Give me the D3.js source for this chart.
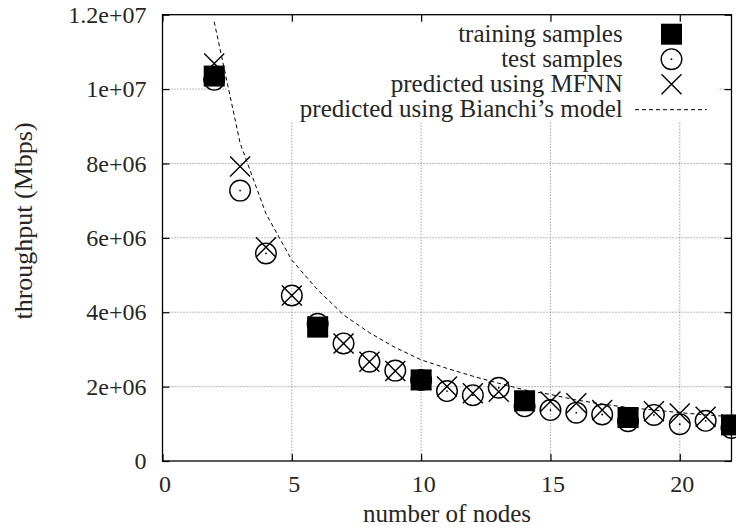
<!DOCTYPE html>
<html>
<head>
<meta charset="utf-8">
<script src="https://cdn.jsdelivr.net/npm/d3@7"></script>
<style>
  body { margin: 0; background: #fff; }
  text { font-family: "Liberation Serif", "Times New Roman", serif; fill: #262626; }
</style>
</head>
<body>
<svg id="chart" width="736" height="530"></svg>
<script>
// training samples (filled squares)
var trainNodes = [2, 6, 10, 14, 18, 22]
var trainThroughput = [10.35e6, 3.60e6, 2.18e6, 1.62e6, 1.17e6, 0.97e6]

// test samples (circles)
var testNodes = [2, 3, 4, 5, 6, 7, 8, 9, 10, 11, 12, 13, 14, 15, 16, 17, 18, 19, 20, 21, 22]
var testThroughput = [10.25e6, 7.27e6, 5.58e6, 4.45e6, 3.69e6, 3.16e6, 2.67e6, 2.43e6, 2.18e6, 1.88e6, 1.77e6,
                      1.97e6, 1.47e6, 1.37e6, 1.30e6, 1.25e6, 1.07e6, 1.24e6, 0.99e6, 1.08e6, 0.89e6]

// predicted using MFNN (crosses)
var mfnnNodes = [2, 3, 4, 5, 6, 7, 8, 9, 10, 11, 12, 13, 14, 15, 16, 17, 18, 19, 20, 21, 22]
var mfnnThroughput = [10.69e6, 7.92e6, 5.75e6, 4.45e6, 3.62e6, 3.16e6, 2.67e6, 2.42e6, 2.18e6, 2.00e6, 1.82e6,
                      1.86e6, 1.60e6, 1.60e6, 1.55e6, 1.37e6, 1.17e6, 1.34e6, 1.28e6, 1.19e6, 0.98e6]

// predicted using Bianchi's model (dashed line)
var bianchiNodes = [2, 3, 4, 5, 6, 7, 8, 9, 10, 11, 12, 13, 14, 15, 16, 17, 18, 19, 20, 21, 22]
var bianchiThroughput = [11.81e6, 8.55e6, 6.65e6, 5.40e6, 4.60e6, 3.93e6, 3.45e6, 3.05e6, 2.72e6, 2.49e6, 2.28e6,
                         2.09e6, 1.91e6, 1.79e6, 1.64e6, 1.53e6, 1.44e6, 1.37e6, 1.30e6, 1.24e6, 1.19e6]

var xTicks = [0, 5, 10, 15, 20]
var yTicks = [0, 2e6, 4e6, 6e6, 8e6, 1e7, 1.2e7]
var yTickLabels = ["0", "2e+06", "4e+06", "6e+06", "8e+06", "1e+07", "1.2e+07"]
var legendLabels = ["training samples", "test samples", "predicted using MFNN", "predicted using Bianchi\u2019s model"]

var margin = {top: 14.7, right: 4.5, bottom: 69, left: 162.5}
var width = 736 - margin.left - margin.right
var height = 530 - margin.top - margin.bottom

var svg = d3.select('#chart')
var g = svg.append('g').attr('transform', 'translate(' + margin.left + ',' + margin.top + ')')

var x = d3.scaleLinear().domain([0, 22]).range([0, width])
var y = d3.scaleLinear().domain([0, 1.2e7]).range([height, 0])

// grid
g.append('g').selectAll('line.gx')
  .data(xTicks.filter(function (d) { return d > 0 }))
  .enter().append('line')
  .attr('x1', function (d) { return x(d) }).attr('x2', function (d) { return x(d) })
  .attr('y1', 0).attr('y2', height)
  .style('stroke', '#777').style('stroke-width', 1).style('stroke-dasharray', '1,2')
g.append('g').selectAll('line.gy')
  .data(yTicks.filter(function (d) { return d > 0 && d < 1.2e7 }))
  .enter().append('line')
  .attr('x1', 0).attr('x2', width)
  .attr('y1', function (d) { return y(d) }).attr('y2', function (d) { return y(d) })
  .style('stroke', '#777').style('stroke-width', 1).style('stroke-dasharray', '1,2')

// opaque key box
g.append('rect')
  .attr('x', 228 - margin.left).attr('y', 0)
  .attr('width', 718 - 228).attr('height', 122 - margin.top)
  .style('fill', '#fff')

// axes, ticks on the inside, mirrored
var fontSize = '24px'
var xAxis = g.append('g').attr('transform', 'translate(0,' + height + ')')
  .call(d3.axisBottom(x).tickValues(xTicks).tickSize(-7).tickPadding(14).tickFormat(d3.format('d')))
xAxis.selectAll('text').style('font-size', fontSize).attr('dx', 2)

var yAxis = g.append('g')
  .call(d3.axisLeft(y).tickValues(yTicks).tickSize(-7).tickPadding(16)
    .tickFormat(function (d, i) { return yTickLabels[i] }))
yAxis.selectAll('text').style('font-size', fontSize)

g.append('g').call(d3.axisTop(x).tickValues(xTicks).tickSize(-7).tickFormat(''))
g.append('g').attr('transform', 'translate(' + width + ',0)')
  .call(d3.axisRight(y).tickValues(yTicks).tickSize(-7).tickFormat(''))

g.selectAll('.domain').remove()
g.selectAll('.tick line').style('stroke', '#000').style('stroke-width', 1.2)

g.append('rect')
  .attr('x', 0).attr('y', 0).attr('width', width).attr('height', height)
  .style('fill', 'none').style('stroke', '#000').style('stroke-width', 1.3)

// axis titles
g.append('text')
  .attr('x', width / 2).attr('y', height + 61)
  .style('text-anchor', 'middle').style('font-size', '25px')
  .text('number of nodes')
svg.append('text')
  .attr('transform', 'translate(32,' + 221 + ') rotate(-90)')
  .style('text-anchor', 'middle').style('font-size', '26px')
  .text('throughput (Mbps)')

// markers
var sq = 21, rad = 10.3, cr = 10

function drawSquare(sel) {
  sel.append('rect')
    .attr('x', function (d) { return d[0] - sq / 2 }).attr('y', function (d) { return d[1] - sq / 2 })
    .attr('width', sq).attr('height', sq).style('fill', '#000')
}
function drawCircle(sel) {
  sel.append('circle')
    .attr('cx', function (d) { return d[0] }).attr('cy', function (d) { return d[1] }).attr('r', rad)
    .style('fill', 'none').style('stroke', '#000').style('stroke-width', 1.4)
  sel.append('circle')
    .attr('cx', function (d) { return d[0] }).attr('cy', function (d) { return d[1] }).attr('r', 0.9)
    .style('fill', '#000')
}
function drawCross(sel) {
  sel.append('path')
    .attr('d', function (d) {
      return 'M' + (d[0] - cr) + ',' + (d[1] - cr) + 'L' + (d[0] + cr) + ',' + (d[1] + cr) +
             'M' + (d[0] - cr) + ',' + (d[1] + cr) + 'L' + (d[0] + cr) + ',' + (d[1] - cr)
    })
    .style('fill', 'none').style('stroke', '#000').style('stroke-width', 1.4)
}

g.selectAll('g.train')
  .data(trainNodes.map(function (n, i) { return [x(n), y(trainThroughput[i])] }))
  .enter().append('g').attr('class', 'train')
  .call(drawSquare)

g.selectAll('g.test')
  .data(testNodes.map(function (n, i) { return [x(n), y(testThroughput[i])] }))
  .enter().append('g').attr('class', 'test')
  .call(drawCircle)

g.selectAll('g.mfnn')
  .data(mfnnNodes.map(function (n, i) { return [x(n), y(mfnnThroughput[i])] }))
  .enter().append('g').attr('class', 'mfnn')
  .call(drawCross)

var line = d3.line()
  .x(function (d, i) { return x(d) })
  .y(function (d, i) { return y(bianchiThroughput[i]) })
g.append('path')
  .datum(bianchiNodes)
  .attr('d', line)
  .style('fill', 'none').style('stroke', '#000').style('stroke-width', 1).style('stroke-dasharray', '4,3')

// key
var keyTextX = 622.7, keyMarkX = 671.5, keyY0 = 34.2, keyStep = 25
legendLabels.forEach(function (label, i) {
  var ky = keyY0 + i * keyStep
  svg.append('text')
    .attr('x', keyTextX).attr('y', ky).attr('dy', '0.32em')
    .style('text-anchor', 'end').style('font-size', '25px')
    .text(label)
  var mark = svg.append('g').datum([keyMarkX, ky])
  if (i === 0) mark.call(drawSquare)
  if (i === 1) mark.call(drawCircle)
  if (i === 2) mark.call(drawCross)
  if (i === 3) {
    mark.append('line')
      .attr('x1', 635).attr('x2', 706.7).attr('y1', ky + 0.5).attr('y2', ky + 0.5)
      .style('stroke', '#000').style('stroke-width', 1).style('stroke-dasharray', '4,3')
  }
})
</script>
</body>
</html>
